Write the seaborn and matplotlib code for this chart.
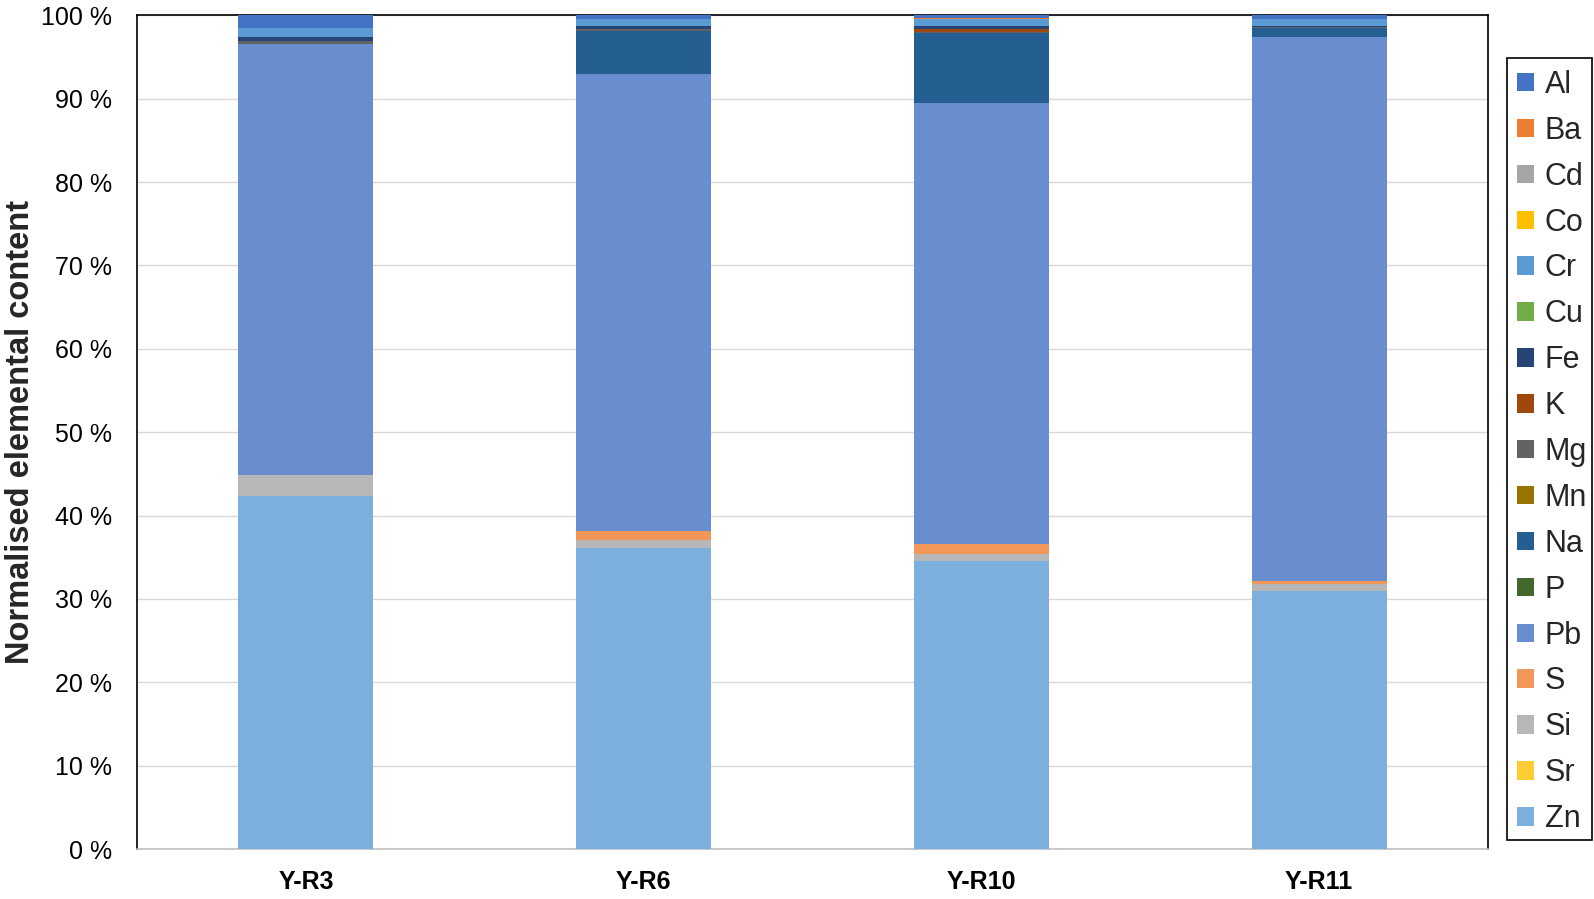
import numpy as np
import pandas as pd
import matplotlib
matplotlib.use("Agg")
import matplotlib.pyplot as plt
import seaborn as sns
from matplotlib.patches import Patch, Rectangle

samples = ["Y-R3", "Y-R6", "Y-R10", "Y-R11"]
elements = ["Al", "Ba", "Cd", "Co", "Cr", "Cu", "Fe", "K", "Mg", "Mn", "Na", "P", "Pb", "S", "Si", "Sr", "Zn"]
colors = ["#4472C4", "#ED7D31", "#A5A5A5", "#FFC000", "#5B9BD5", "#70AD47", "#264478", "#9E480E",
          "#636363", "#997300", "#255E91", "#43682B", "#698ED0", "#F1975A", "#B7B7B7", "#FFCD33", "#7CAFDD"]

# percentage values per element, order of samples: Y-R3, Y-R6, Y-R10, Y-R11
Al = [1.5, 0.4, 0.3, 0.4]
Ba = [0.0, 0.0, 0.1, 0.0]
Cd = [0.0, 0.0, 0.1, 0.0]
Co = [0.0, 0.0, 0.0, 0.0]
Cr = [1.1, 0.9, 0.8, 0.9]
Cu = [0.0, 0.0, 0.0, 0.0]
Fe = [0.5, 0.3, 0.4, 0.1]
K = [0.0, 0.1, 0.25, 0.0]
Mg = [0.4, 0.2, 0.15, 0.15]
Mn = [0.0, 0.0, 0.0, 0.0]
Na = [0.0, 5.2, 8.4, 1.0]
P = [0.0, 0.0, 0.0, 0.0]
Pb = [51.6, 54.8, 52.9, 65.35]
S = [0.0, 1.0, 1.2, 0.3]
Si = [2.5, 1.0, 0.8, 0.9]
Sr = [0.0, 0.0, 0.0, 0.0]
Zn = [42.4, 36.1, 34.6, 30.9]

data = {"Al": Al, "Ba": Ba, "Cd": Cd, "Co": Co, "Cr": Cr, "Cu": Cu, "Fe": Fe, "K": K, "Mg": Mg,
        "Mn": Mn, "Na": Na, "P": P, "Pb": Pb, "S": S, "Si": Si, "Sr": Sr, "Zn": Zn}
df = pd.DataFrame(data, index=samples)

sns.set_theme(style="white")
plt.rcParams["font.family"] = ["Liberation Sans", "DejaVu Sans"]

fig = plt.figure(figsize=(15.94, 8.99), dpi=100)
ax = fig.add_axes([0.086, 0.0556, 0.8475, 0.9274])

# stacking bottom -> top is reverse of legend order
stack_order = elements[::-1]
cum = df[stack_order].cumsum(axis=1)
# draw from top cumulative down so lower segments overlay
for el in elements:
    col = colors[elements.index(el)]
    plot_df = pd.DataFrame({"sample": samples, "val": cum[el].values})
    sns.barplot(data=plot_df, x="sample", y="val", order=samples, color=col,
                width=0.4, saturation=1, ax=ax, linewidth=0, zorder=3)

ax.set_ylim(0, 100)
ax.set_xlim(-0.5, 3.5)
ax.set_yticks(np.arange(0, 101, 10))
ax.set_yticklabels([f"{v} %" for v in range(0, 101, 10)], fontsize=18)
ax.set_xticks(range(4))
ax.set_xticklabels(samples, fontsize=18, fontweight="bold")
ax.set_xlabel("")
ax.set_ylabel("Normalised elemental content", fontsize=23.5, fontweight="bold")
ax.yaxis.set_label_coords(-0.075, 0.5)
ax.yaxis.grid(True, color="#D9D9D9", linewidth=1, zorder=0)
ax.set_axisbelow(True)
for s in ["top", "left", "right"]:
    ax.spines[s].set_color("black")
    ax.spines[s].set_linewidth(1.2)
ax.spines["bottom"].set_color("#BFBFBF")
ax.spines["bottom"].set_linewidth(1.2)
ax.tick_params(axis="y", length=0, pad=18, colors="black")
ax.tick_params(axis="x", length=0, pad=15, colors="black")

handles = [Patch(facecolor=c, edgecolor="none", label=e) for e, c in zip(elements, colors)]
leg = fig.legend(handles=handles, loc="upper left", bbox_to_anchor=(0.9517, 0.9222),
                 fontsize=22, frameon=False,
                 handlelength=0.55, handleheight=0.55, handletextpad=0.35,
                 labelspacing=0.52, borderpad=0, borderaxespad=0)
fig.patches.append(Rectangle((0.9452, 0.0656), 0.0536, 0.8699, transform=fig.transFigure,
                             fill=False, edgecolor="black", linewidth=1.2, figure=fig))

fig.savefig("out.png", dpi=100)
